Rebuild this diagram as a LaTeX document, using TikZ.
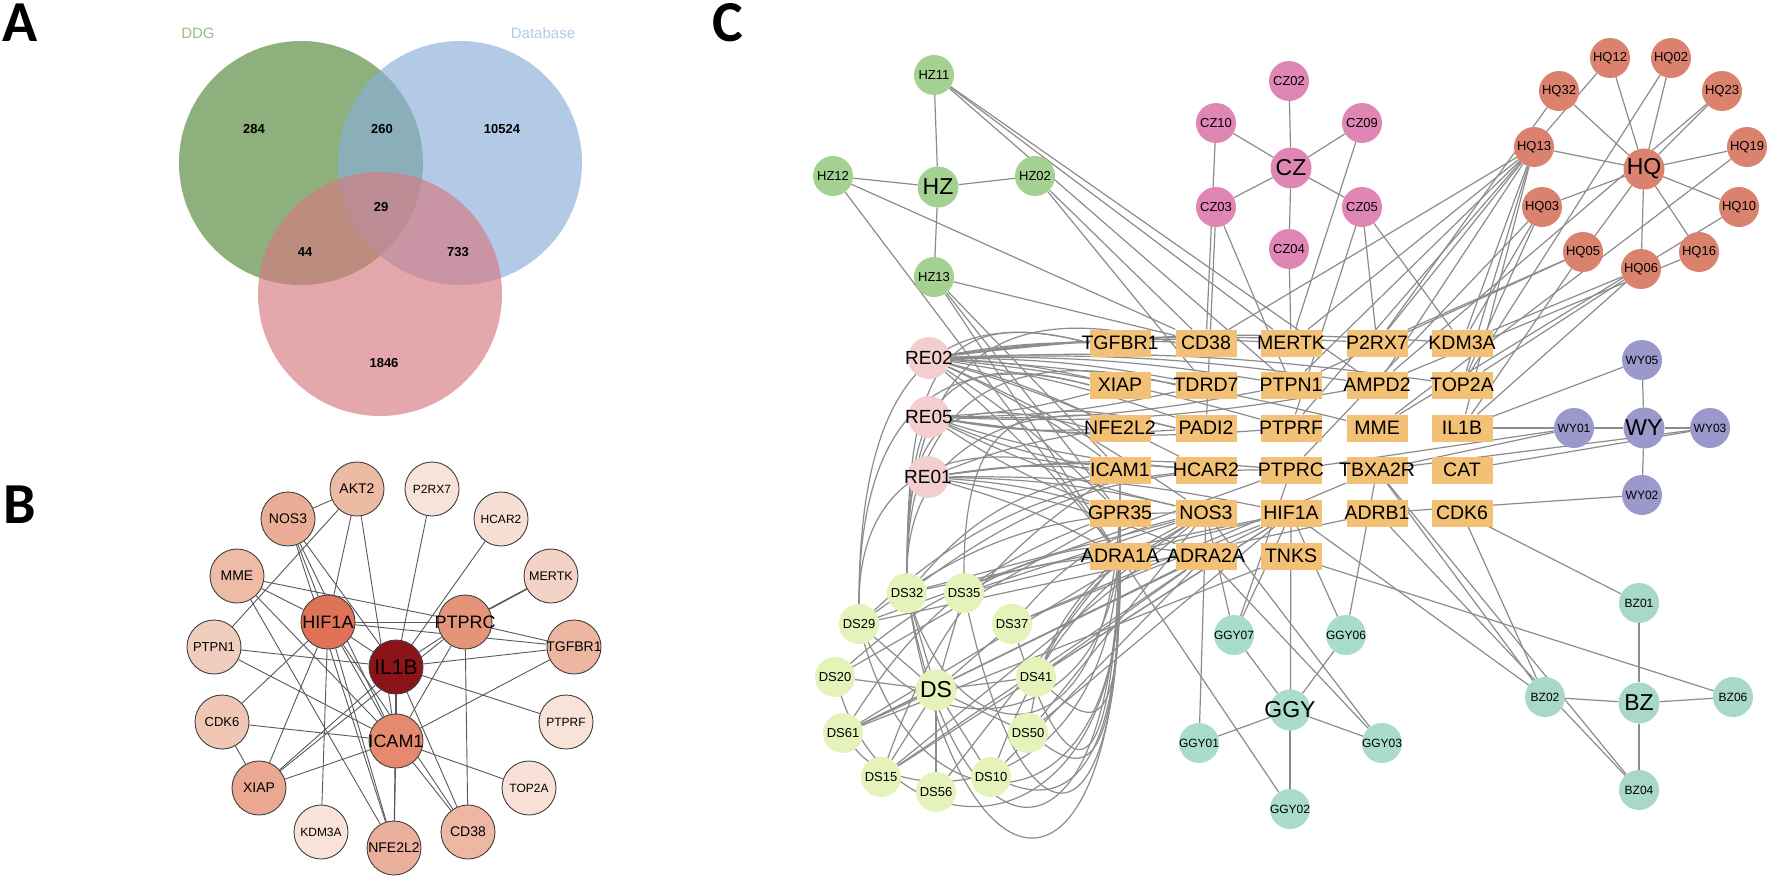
\documentclass[tikz,border=0pt]{standalone}
\usepackage{fontspec}
\setmainfont{Liberation Sans}
\newfontfamily\carlfont{Carlito}
\usetikzlibrary{backgrounds,calc}
\pgfdeclarelayer{edgelayer}
\pgfsetlayers{background,edgelayer,main}
\newcommand\myfs[1]{\fontsize{#1}{#1}\selectfont}
\definecolor{vg}{RGB}{80,134,55}
\definecolor{vb}{RGB}{138,175,218}
\definecolor{vr}{RGB}{214,122,129}
\definecolor{ddgc}{RGB}{150,190,130}
\definecolor{dbc}{RGB}{178,203,233}
\definecolor{eg}{RGB}{140,140,140}
\definecolor{hzc}{RGB}{164,208,146}
\definecolor{czc}{RGB}{224,134,180}
\definecolor{hqc}{RGB}{218,130,110}
\definecolor{wyc}{RGB}{155,152,203}
\definecolor{rec}{RGB}{243,206,206}
\definecolor{dsc}{RGB}{229,242,185}
\definecolor{ggc}{RGB}{169,220,203}
\definecolor{bzc}{RGB}{167,217,198}
\definecolor{genec}{RGB}{243,193,118}
\definecolor{cIL1B}{HTML}{8B1419}
\definecolor{cHIF1A}{HTML}{E07357}
\definecolor{cPTPRC}{HTML}{E49579}
\definecolor{cICAM1}{HTML}{E58A6E}
\definecolor{cAKT2}{HTML}{EDBAA3}
\definecolor{cNOS3}{HTML}{EAAE98}
\definecolor{cMME}{HTML}{EEBCA6}
\definecolor{cPTPN1}{HTML}{F1CDBD}
\definecolor{cCDK6}{HTML}{F0C7B4}
\definecolor{cXIAP}{HTML}{EAA891}
\definecolor{cKDM3A}{HTML}{F9E3D9}
\definecolor{cNFE2L2}{HTML}{EBAF9D}
\definecolor{cCD38}{HTML}{EDB7A3}
\definecolor{cTOP2A}{HTML}{F8E1D7}
\definecolor{cPTPRF}{HTML}{F9E2D8}
\definecolor{cTGFBR1}{HTML}{ECB6A1}
\definecolor{cMERTK}{HTML}{F3D3C5}
\definecolor{cHCAR2}{HTML}{F7DFD3}
\definecolor{cP2RX7}{HTML}{F8E3D9}
\tikzset{
  panellab/.style={font=\carlfont\bfseries\myfs{58}, inner sep=0},
  vnum/.style={font=\bfseries\myfs{13}, inner sep=0},
  bn/.style={circle, draw=black!75, line width=0.9pt, minimum size=54, inner sep=-6pt, font=\myfs{14}},
  bedge/.style={draw=black!65, line width=0.9pt},
  cn/.style={circle, minimum size=40, inner sep=-5pt, font=\myfs{13}},
  chub/.style={circle, minimum size=41, inner sep=-10pt, font=\myfs{23}},
  renode/.style={circle, fill=rec, minimum size=42, inner sep=-8pt, font=\myfs{19}},
  genebox/.style={rectangle, fill=genec, minimum width=61, minimum height=27, inner sep=0},
  genetext/.style={inner sep=0, font=\myfs{19.5}},
  cedge/.style={draw=eg, line width=1.2pt},
}
\newcommand\mkgene[3]{\node[genebox] (g#1) at (#2,#3) {}; \node[genetext] (t#1) at (#2,#3) {#1};}
\begin{document}
\begin{tikzpicture}[x=1pt,y=-1pt]
\useasboundingbox (0,0) rectangle (1772,878);
\begin{pgfonlayer}{background}
\fill[white] (0,0) rectangle (1772,878);
\end{pgfonlayer}

% ---------------- Panel A ----------------
\node[panellab] (labA) at (20,23) {A};
\fill[vg, fill opacity=0.65] (301,163) circle (122);
\fill[vb, fill opacity=0.65] (460,163) circle (122);
\fill[vr, fill opacity=0.65] (380,294) circle (122);
\node[font=\myfs{15}, text=ddgc] (tDDG) at (198,33) {DDG};
\node[font=\myfs{15}, text=dbc] (tDB) at (543,33) {Database};
\node[vnum] (n284) at (254,129) {284};
\node[vnum] (n260) at (382,129) {260};
\node[vnum] (n10524) at (502,129) {10524};
\node[vnum] (n29) at (381,207) {29};
\node[vnum] (n44) at (305,252) {44};
\node[vnum] (n733) at (458,252) {733};
\node[vnum] (n1846) at (384,363) {1846};

% ---------------- Panel B ----------------
\node[panellab] (labB) at (20,505) {B};
\node[bn,fill=cIL1B,font=\myfs{21}] (bIL1B) at (396,667) {IL1B};
\node[bn,fill=cHIF1A,font=\myfs{18}] (bHIF1A) at (328,622) {HIF1A};
\node[bn,fill=cPTPRC,font=\myfs{18}] (bPTPRC) at (465,622) {PTPRC};
\node[bn,fill=cICAM1,font=\myfs{18}] (bICAM1) at (396,741) {ICAM1};
\node[bn,fill=cAKT2] (bAKT2) at (357,489) {AKT2};
\node[bn,fill=cP2RX7,font=\myfs{12}] (bP2RX7) at (432,489) {P2RX7};
\node[bn,fill=cNOS3] (bNOS3) at (288,519) {NOS3};
\node[bn,fill=cHCAR2,font=\myfs{12}] (bHCAR2) at (501,519) {HCAR2};
\node[bn,fill=cMME] (bMME) at (237,576) {MME};
\node[bn,fill=cMERTK,font=\myfs{12.5}] (bMERTK) at (551,576) {MERTK};
\node[bn,fill=cPTPN1,font=\myfs{13}] (bPTPN1) at (214,647) {PTPN1};
\node[bn,fill=cTGFBR1] (bTGFBR1) at (574,647) {TGFBR1};
\node[bn,fill=cCDK6,font=\myfs{13}] (bCDK6) at (222,722) {CDK6};
\node[bn,fill=cPTPRF,font=\myfs{12}] (bPTPRF) at (566,722) {PTPRF};
\node[bn,fill=cXIAP] (bXIAP) at (259,788) {XIAP};
\node[bn,fill=cTOP2A,font=\myfs{12}] (bTOP2A) at (529,788) {TOP2A};
\node[bn,fill=cKDM3A,font=\myfs{12}] (bKDM3A) at (321,832) {KDM3A};
\node[bn,fill=cNFE2L2] (bNFE2L2) at (394,848) {NFE2L2};
\node[bn,fill=cCD38] (bCD38) at (468,832) {CD38};
\begin{pgfonlayer}{edgelayer}
\foreach \a/\b in {bNOS3/bAKT2, bAKT2/bHIF1A, bAKT2/bICAM1, bAKT2/bPTPN1,
  bP2RX7/bIL1B, bHCAR2/bIL1B, bMME/bPTPRC, bMME/bHIF1A, bMME/bICAM1, bMME/bNFE2L2,
  bNOS3/bHIF1A, bNOS3/bIL1B, bNOS3/bICAM1, bNOS3/bNFE2L2,
  bHIF1A/bPTPRC, bHIF1A/bIL1B, bHIF1A/bTGFBR1, bHIF1A/bICAM1, bHIF1A/bXIAP, bHIF1A/bCDK6,
  bHIF1A/bKDM3A, bHIF1A/bNFE2L2, bHIF1A/bCD38,
  bPTPRC/bIL1B, bPTPRC/bTGFBR1, bPTPRC/bCD38, bPTPRC/bICAM1, bPTPRC/bXIAP,
  bPTPN1/bIL1B, bPTPN1/bICAM1, bTGFBR1/bIL1B, bTGFBR1/bICAM1,
  bIL1B/bPTPRF, bIL1B/bXIAP, bIL1B/bNFE2L2, bIL1B/bCD38,
  bCDK6/bXIAP, bCDK6/bICAM1, bICAM1/bXIAP, bICAM1/bTOP2A, bICAM1/bNFE2L2, bICAM1/bCD38}
  \draw[bedge] (\a) -- (\b);
\draw[bedge, line width=1.8pt] (bIL1B) -- (bICAM1);
\draw[bedge, line width=1.6pt] (bMERTK) -- (bPTPRC);
\end{pgfonlayer}

% ---------------- Panel C ----------------
\node[panellab] (labC) at (728,23) {C};
% HZ
\node[cn,fill=hzc] (HZ11) at (934,75) {HZ11};
\node[cn,fill=hzc] (HZ12) at (833,176) {HZ12};
\node[chub,fill=hzc] (HZ) at (938,187) {HZ};
\node[cn,fill=hzc] (HZ02) at (1035,176) {HZ02};
\node[cn,fill=hzc] (HZ13) at (934,277) {HZ13};
% CZ
\node[cn,fill=czc] (CZ02) at (1289,81) {CZ02};
\node[cn,fill=czc] (CZ10) at (1216,123) {CZ10};
\node[cn,fill=czc] (CZ09) at (1362,123) {CZ09};
\node[chub,fill=czc] (CZ) at (1291,168) {CZ};
\node[cn,fill=czc] (CZ03) at (1216,207) {CZ03};
\node[cn,fill=czc] (CZ05) at (1362,207) {CZ05};
\node[cn,fill=czc] (CZ04) at (1289,249) {CZ04};
% HQ
\node[cn,fill=hqc] (HQ12) at (1610,58) {HQ12};
\node[cn,fill=hqc] (HQ02) at (1671,58) {HQ02};
\node[cn,fill=hqc] (HQ32) at (1559,91) {HQ32};
\node[cn,fill=hqc] (HQ23) at (1722,91) {HQ23};
\node[cn,fill=hqc] (HQ13) at (1534,147) {HQ13};
\node[chub,fill=hqc] (HQ) at (1644,169) {HQ};
\node[cn,fill=hqc] (HQ19) at (1747,147) {HQ19};
\node[cn,fill=hqc] (HQ03) at (1542,207) {HQ03};
\node[cn,fill=hqc] (HQ10) at (1739,207) {HQ10};
\node[cn,fill=hqc] (HQ05) at (1583,252) {HQ05};
\node[cn,fill=hqc] (HQ16) at (1699,252) {HQ16};
\node[cn,fill=hqc] (HQ06) at (1641,269) {HQ06};
% WY
\node[cn,fill=wyc,font=\myfs{12}] (WY05) at (1642,360) {WY05};
\node[cn,fill=wyc,font=\myfs{12}] (WY01) at (1574,428) {WY01};
\node[chub,fill=wyc] (WY) at (1644,428) {WY};
\node[cn,fill=wyc,font=\myfs{12}] (WY03) at (1710,428) {WY03};
\node[cn,fill=wyc,font=\myfs{12}] (WY02) at (1642,495) {WY02};
% BZ
\node[cn,fill=bzc,font=\myfs{12}] (BZ01) at (1639,603) {BZ01};
\node[cn,fill=bzc,font=\myfs{12}] (BZ02) at (1545,697) {BZ02};
\node[chub,fill=bzc] (BZ) at (1639,703) {BZ};
\node[cn,fill=bzc,font=\myfs{12}] (BZ06) at (1733,697) {BZ06};
\node[cn,fill=bzc,font=\myfs{12}] (BZ04) at (1639,790) {BZ04};
% GGY
\node[cn,fill=ggc,font=\myfs{12}] (GGY07) at (1234,635) {GGY07};
\node[cn,fill=ggc,font=\myfs{12}] (GGY06) at (1346,635) {GGY06};
\node[chub,fill=ggc] (GGY) at (1290,710) {GGY};
\node[cn,fill=ggc,font=\myfs{12}] (GGY01) at (1199,743) {GGY01};
\node[cn,fill=ggc,font=\myfs{12}] (GGY03) at (1382,743) {GGY03};
\node[cn,fill=ggc,font=\myfs{12}] (GGY02) at (1290,809) {GGY02};
% RE
\node[renode] (RE02) at (929,358) {RE02};
\node[renode] (RE05) at (929,417) {RE05};
\node[renode] (RE01) at (928,477) {RE01};
% DS
\node[cn,fill=dsc] (DS32) at (907,593) {DS32};
\node[cn,fill=dsc] (DS35) at (964,593) {DS35};
\node[cn,fill=dsc] (DS29) at (859,624) {DS29};
\node[cn,fill=dsc] (DS37) at (1012,624) {DS37};
\node[cn,fill=dsc] (DS20) at (835,677) {DS20};
\node[chub,fill=dsc] (DS) at (936,690) {DS};
\node[cn,fill=dsc] (DS41) at (1036,677) {DS41};
\node[cn,fill=dsc] (DS61) at (843,733) {DS61};
\node[cn,fill=dsc] (DS50) at (1028,733) {DS50};
\node[cn,fill=dsc] (DS15) at (881,777) {DS15};
\node[cn,fill=dsc] (DS56) at (936,792) {DS56};
\node[cn,fill=dsc] (DS10) at (991,777) {DS10};
% targets
\mkgene{TGFBR1}{1120}{343}
\mkgene{CD38}{1206}{343}
\mkgene{MERTK}{1291}{343}
\mkgene{P2RX7}{1377}{343}
\mkgene{KDM3A}{1462}{343}
\mkgene{XIAP}{1120}{385}
\mkgene{TDRD7}{1206}{385}
\mkgene{PTPN1}{1291}{385}
\mkgene{AMPD2}{1377}{385}
\mkgene{TOP2A}{1462}{385}
\mkgene{NFE2L2}{1120}{428}
\mkgene{PADI2}{1206}{428}
\mkgene{PTPRF}{1291}{428}
\mkgene{MME}{1377}{428}
\mkgene{IL1B}{1462}{428}
\mkgene{ICAM1}{1120}{470}
\mkgene{HCAR2}{1206}{470}
\mkgene{PTPRC}{1291}{470}
\mkgene{TBXA2R}{1377}{470}
\mkgene{CAT}{1462}{470}
\mkgene{GPR35}{1120}{513}
\mkgene{NOS3}{1206}{513}
\mkgene{HIF1A}{1291}{513}
\mkgene{ADRB1}{1377}{513}
\mkgene{CDK6}{1462}{513}
\mkgene{ADRA1A}{1120}{556}
\mkgene{ADRA2A}{1206}{556}
\mkgene{TNKS}{1291}{556}

\begin{pgfonlayer}{edgelayer}
\foreach \a/\b in {HZ/HZ11, HZ/HZ12, HZ/HZ02, HZ/HZ13,
  HZ11/gMERTK, HZ11/gPTPN1, HZ11/gAMPD2, HZ02/gCD38, HZ02/gTDRD7,
  HZ12/gCD38, HZ12/gADRA1A, HZ13/gCD38, HZ13/gGPR35, HZ13/gADRA1A, HZ13/gICAM1,
  CZ/CZ02, CZ/CZ10, CZ/CZ09, CZ/CZ03, CZ/CZ05, CZ/CZ04,
  CZ10/gCD38, CZ03/gPADI2, CZ03/gPTPN1, CZ04/gMERTK, CZ09/gMERTK, CZ05/gP2RX7, CZ05/gKDM3A, CZ05/gPTPRF,
  HQ/HQ32, HQ/HQ12, HQ/HQ02, HQ/HQ23, HQ/HQ19, HQ/HQ13, HQ/HQ03, HQ/HQ10, HQ/HQ16, HQ/HQ06, HQ/HQ05,
  HQ13/gCD38, HQ13/gP2RX7, HQ13/gMERTK, HQ13/gKDM3A, HQ13/gTOP2A, HQ13/gAMPD2, HQ13/gIL1B, HQ13/gPTPN1,
  HQ32/gP2RX7, HQ12/gPTPRF, HQ02/gTOP2A, HQ23/gAMPD2, HQ19/gMME, HQ10/gMME, HQ03/gKDM3A, HQ03/gTOP2A,
  HQ03/gPTPRC, HQ05/gP2RX7, HQ05/gPTPN1, HQ05/gIL1B, HQ06/gTOP2A, HQ06/gIL1B, HQ06/gKDM3A, HQ16/gAMPD2,
  WY/WY05, WY/WY01, WY/WY03, WY/WY02, WY05/gIL1B, WY01/gIL1B, WY01/gTBXA2R, WY01/gPTPRC,
  WY03/gCAT, WY03/gTBXA2R, WY02/gADRB1,
  BZ/BZ01, BZ/BZ02, BZ/BZ06, BZ/BZ04, BZ01/gCDK6, BZ06/gTNKS, BZ02/gHIF1A, BZ02/gTBXA2R, BZ02/gCDK6,
  BZ04/gTBXA2R, BZ04/gADRB1,
  GGY/GGY07, GGY/GGY06, GGY/GGY01, GGY/GGY03, GGY/GGY02, GGY07/gHIF1A, GGY07/gPTPRC, GGY07/gNOS3,
  GGY02/gHIF1A, GGY06/gHIF1A, GGY06/gTBXA2R, GGY01/gNOS3, GGY03/gNOS3, GGY03/gADRA2A, GGY02/gADRA1A,
  DS/DS32, DS/DS35, DS/DS29, DS/DS37, DS/DS20, DS/DS41, DS/DS61, DS/DS50, DS/DS15, DS/DS56, DS/DS10,
  DS35/gNOS3, DS35/gHIF1A, DS29/gPTPRC, DS29/gADRB1, DS37/gTBXA2R, DS37/gHIF1A, DS41/gADRA2A, DS41/gHIF1A,
  DS61/gNOS3, DS61/gADRA2A, DS61/gHIF1A, DS50/gNOS3, DS50/gHIF1A, DS15/gNOS3, DS15/gADRA2A,
  DS56/gADRA1A, DS10/gADRA2A, DS20/gGPR35, DS61/gTNKS, DS15/gHIF1A, DS32/gNOS3, DS32/gHIF1A}
  \draw[cedge] (\a) -- (\b);
% RE fans
\foreach \t in {TGFBR1, CD38, MERTK, P2RX7, KDM3A, XIAP, TDRD7, PTPN1, AMPD2, TOP2A, NFE2L2, PADI2, PTPRF, MME, ICAM1, HCAR2, GPR35, NOS3, ADRA1A}
  \draw[cedge] (RE02) to[bend left=5] (g\t);
\foreach \t in {XIAP, TDRD7, PTPN1, AMPD2, NFE2L2, PADI2, PTPRF, ICAM1, HCAR2, GPR35, NOS3}
  \draw[cedge] (RE05) to[bend right=6] (g\t);
\foreach \t in {ICAM1, HCAR2, PTPRC, GPR35, NOS3, HIF1A, ADRA1A, ADRA2A, NFE2L2}
  \draw[cedge] (RE01) to[bend left=6] (g\t);
% DS curves rising along the left and entering targets from the upper left
\foreach \s/\t/\h in {DS32/TGFBR1/200, DS32/XIAP/170, DS32/CD38/240, DS32/TDRD7/190, DS32/NFE2L2/150,
  DS29/TGFBR1/230, DS29/XIAP/190, DS35/PADI2/160, DS29/ICAM1/120, DS32/PADI2/130}
  \draw[cedge] (\s.north) .. controls ($(\s.north)+(0,-\h)$) and ($(g\t.west)+(-150,-40)$) .. (g\t.west);
% DS curves dipping below and rising into the left column
\foreach \s/\t/\d in {DS32/ADRA1A/920, DS32/GPR35/885, DS35/ADRA1A/860, DS29/ADRA1A/840,
  DS37/ICAM1/805, DS10/ADRA1A/800, DS50/GPR35/775, DS32/ICAM1/765, DS29/GPR35/745, DS41/ADRA1A/730,
  DS20/ADRA1A/860, DS61/GPR35/810}
  \draw[cedge] (\s) .. controls ($(\s |- 0,\d)+(60,0)$) and (g\t |- 0,\d) .. (g\t.south);
% DS curves bowing toward the grid
\foreach \s/\t in {DS32/PTPRC, DS32/ICAM1, DS29/HCAR2, DS35/ADRA2A, DS37/NOS3, DS61/GPR35, DS15/ICAM1,
  DS10/NOS3, DS50/ADRA1A, DS41/NOS3, DS20/ADRA1A, DS29/NOS3}
  \draw[cedge] (\s) to[bend left=18] (g\t);
\end{pgfonlayer}
\end{tikzpicture}
\end{document}
